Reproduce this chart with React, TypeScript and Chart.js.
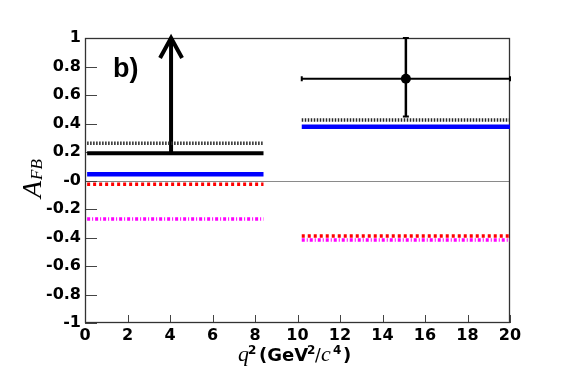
import React, { useEffect, useRef } from "react";
import { Chart, registerables } from "chart.js";

Chart.register(...registerables);

// q^2 bins
const binStart = [0.1, 10.2];
const binEnd = [8.4, 20];

// model curves (one value per bin)
const smPrediction = [0.043, 0.378]; // blue solid
const modelDotted = [0.261, 0.425]; // black dotted
const modelRed = [-0.027, -0.39]; // red dotted
const modelMagenta = [-0.271, -0.418]; // magenta dash-dot

// low bin: lower limit with arrow
const lowBinLimit = [0.191];
const arrowX = [4.05];
const arrowTop = [1.0];

// high bin measurement
const measX = [15.1];
const measY = [0.714];
const measErrHigh = [1.0];
const measErrLow = [0.449];

// ticks
const xTickValues = [0, 2, 4, 6, 8, 10, 12, 14, 16, 18, 20];
const xTickLabels = ["0", "2", "4", "6", "8", "10", "12", "14", "16", "18", "20"];
const yTickValues = [-1, -0.8, -0.6, -0.4, -0.2, 0, 0.2, 0.4, 0.6, 0.8, 1];
const yTickLabels = ["-1", "-0.8", "-0.6", "-0.4", "-0.2", "-0", "0.2", "0.4", "0.6", "0.8", "1"];

function segments(values: number[]) {
  const pts: { x: number; y: number | null }[] = [];
  values.forEach((v, i) => {
    pts.push({ x: binStart[i], y: v });
    pts.push({ x: binEnd[i], y: v });
    if (i < values.length - 1) {
      pts.push({ x: (binEnd[i] + binStart[i + 1]) / 2, y: null });
    }
  });
  return pts;
}

const overlayPlugin = {
  id: "overlay",
  beforeDatasetsDraw(chart: any) {
    const { ctx, chartArea: a, scales } = chart;
    const xs = scales.x;
    const ys = scales.y;
    ctx.save();
    // zero line
    const y0 = Math.round(ys.getPixelForValue(0)) + 0.5;
    ctx.strokeStyle = "#8a8a8a";
    ctx.lineWidth = 1;
    ctx.beginPath();
    ctx.moveTo(a.left, y0);
    ctx.lineTo(a.right, y0);
    ctx.stroke();
    // inward ticks
    ctx.strokeStyle = "#444";
    ctx.lineWidth = 1;
    ctx.beginPath();
    xTickValues.forEach((v) => {
      const px = Math.round(xs.getPixelForValue(v)) + 0.5;
      ctx.moveTo(px, a.bottom);
      ctx.lineTo(px, a.bottom - 8);
    });
    yTickValues.forEach((v) => {
      const py = Math.round(ys.getPixelForValue(v)) + 0.5;
      ctx.moveTo(a.left, py);
      ctx.lineTo(a.left + 12, py);
    });
    ctx.stroke();
    // frame
    ctx.strokeStyle = "#333";
    ctx.lineWidth = 1.3;
    ctx.strokeRect(Math.round(a.left) + 0.5, Math.round(a.top) + 0.5, Math.round(a.width) - 1, Math.round(a.height) - 1);
    ctx.restore();
  },
  afterDraw(chart: any) {
    const { ctx, scales } = chart;
    const xs = scales.x;
    const ys = scales.y;
    ctx.save();
    // arrow head
    const ax = xs.getPixelForValue(arrowX[0]);
    const ay = ys.getPixelForValue(arrowTop[0]);
    ctx.strokeStyle = "#000";
    ctx.lineWidth = 4;
    ctx.lineJoin = "miter";
    ctx.beginPath();
    ctx.moveTo(ax - 11, ay + 20);
    ctx.lineTo(ax, ay);
    ctx.lineTo(ax + 11, ay + 20);
    ctx.stroke();

    ctx.fillStyle = "#000";
    ctx.textAlign = "left";
    ctx.textBaseline = "alphabetic";
    // panel label
    ctx.font = 'bold 27px "Liberation Sans"';
    ctx.fillText("b)", 113, 77);

    // x title
    const base = 361;
    ctx.font = 'italic 22px "Liberation Serif"';
    ctx.fillText("q", 238, base);
    ctx.font = 'bold 12px "DejaVu Sans"';
    ctx.fillText("2", 248, base - 7);
    ctx.font = 'bold 18px "DejaVu Sans"';
    ctx.fillText("(GeV", 259, base);
    ctx.font = 'bold 12px "DejaVu Sans"';
    ctx.fillText("2", 307, base - 7);
    ctx.font = '17px "DejaVu Sans"';
    ctx.fillText("/", 315, base);
    ctx.font = 'italic 22px "Liberation Serif"';
    ctx.fillText("c", 321, base);
    ctx.font = 'bold 12px "DejaVu Sans"';
    ctx.fillText("4", 333, base - 7);
    ctx.font = 'bold 18px "DejaVu Sans"';
    ctx.fillText(")", 343, base);

    // y title (rotated)
    ctx.translate(41, 198);
    ctx.rotate(-Math.PI / 2);
    ctx.font = 'italic 28px "Liberation Serif"';
    ctx.fillText("A", 0, 0);
    ctx.font = 'italic 17px "Liberation Serif"';
    ctx.fillText("FB", 18, 1);
    ctx.restore();
  },
};

export default function App() {
  const canvasRef = useRef<HTMLCanvasElement | null>(null);

  useEffect(() => {
    const canvas = canvasRef.current;
    if (!canvas) return;
    const lineDs = (label: string, values: number[], color: string, width: number, dash: number[]) => ({
      label,
      data: segments(values),
      borderColor: color,
      backgroundColor: color,
      borderWidth: width,
      borderDash: dash,
      borderCapStyle: "butt",
      pointRadius: 0,
      spanGaps: false,
      fill: false,
    });
    const chart = new Chart(canvas, {
      type: "line",
      data: {
        datasets: [
          lineDs("model dotted", modelDotted, "#2a2a2a", 3.5, [1.5, 1.5]),
          lineDs("model red", modelRed, "#ff0000", 3.5, [3, 3]),
          lineDs("model magenta", modelMagenta, "#ff00ff", 3.5, [3, 2, 1, 2]),
          lineDs("SM", smPrediction, "#0000ff", 4.5, []),
          {
            label: "limit",
            data: [
              { x: binStart[0], y: lowBinLimit[0] },
              { x: binEnd[0], y: lowBinLimit[0] },
            ],
            borderColor: "#000",
            borderWidth: 4,
            pointRadius: 0,
          },
          {
            label: "arrow",
            data: [
              { x: arrowX[0], y: lowBinLimit[0] },
              { x: arrowX[0], y: arrowTop[0] - 0.01 },
            ],
            borderColor: "#000",
            borderWidth: 4,
            pointRadius: 0,
            clip: false,
          },
          {
            label: "yerr",
            data: [
              { x: measX[0], y: measErrLow[0] },
              { x: measX[0], y: measErrHigh[0] },
            ],
            borderColor: "#000",
            backgroundColor: "#000",
            borderWidth: 2.5,
            pointStyle: "line",
            pointRadius: 3,
            pointBorderWidth: 2,
            clip: false,
          },
          {
            label: "xerr",
            data: [
              { x: binStart[1], y: measY[0] },
              { x: binEnd[1], y: measY[0] },
            ],
            borderColor: "#000",
            backgroundColor: "#000",
            borderWidth: 2,
            pointStyle: "line",
            pointRotation: 90,
            pointRadius: 2.5,
            pointBorderWidth: 2,
            clip: false,
          },
          {
            label: "measurement",
            data: [{ x: measX[0], y: measY[0] }],
            showLine: false,
            borderColor: "#000",
            backgroundColor: "#000",
            pointRadius: 5,
            pointBorderWidth: 0,
          },
        ] as any,
      },
      options: {
        responsive: false,
        devicePixelRatio: 1,
        animation: false,
        layout: { padding: { left: 0, top: 38, right: 57, bottom: 0 } },
        plugins: { legend: { display: false }, tooltip: { enabled: false } },
        scales: {
          x: {
            type: "linear",
            min: 0,
            max: 20,
            afterFit: (s: any) => {
              s.height = 66;
            },
            afterBuildTicks: (s: any) => {
              s.ticks = xTickValues.map((v) => ({ value: v }));
            },
            grid: { display: false, drawTicks: false },
            border: { display: false },
            ticks: {
              autoSkip: false,
              maxRotation: 0,
              padding: 3,
              color: "#000",
              font: { family: "DejaVu Sans", weight: "bold", size: 16 },
              callback: (v: any) => {
                const i = xTickValues.findIndex((t) => Math.abs(t - Number(v)) < 1e-6);
                return i >= 0 ? xTickLabels[i] : "";
              },
            },
          },
          y: {
            type: "linear",
            min: -1,
            max: 1,
            afterFit: (s: any) => {
              s.width = 85;
            },
            afterBuildTicks: (s: any) => {
              s.ticks = yTickValues.map((v) => ({ value: v }));
            },
            grid: { display: false, drawTicks: false },
            border: { display: false },
            ticks: {
              autoSkip: false,
              padding: 4,
              color: "#000",
              font: { family: "DejaVu Sans", weight: "bold", size: 16 },
              callback: (v: any) => {
                const i = yTickValues.findIndex((t) => Math.abs(t - Number(v)) < 1e-6);
                return i >= 0 ? yTickLabels[i] : "";
              },
            },
          },
        },
      } as any,
      plugins: [overlayPlugin],
    });
    return () => chart.destroy();
  }, []);

  return (
    <div style={{ position: "absolute", left: 0, top: 0, width: 567, height: 389, background: "#fff" }}>
      <canvas ref={canvasRef} width={567} height={389} style={{ display: "block" }} />
    </div>
  );
}
